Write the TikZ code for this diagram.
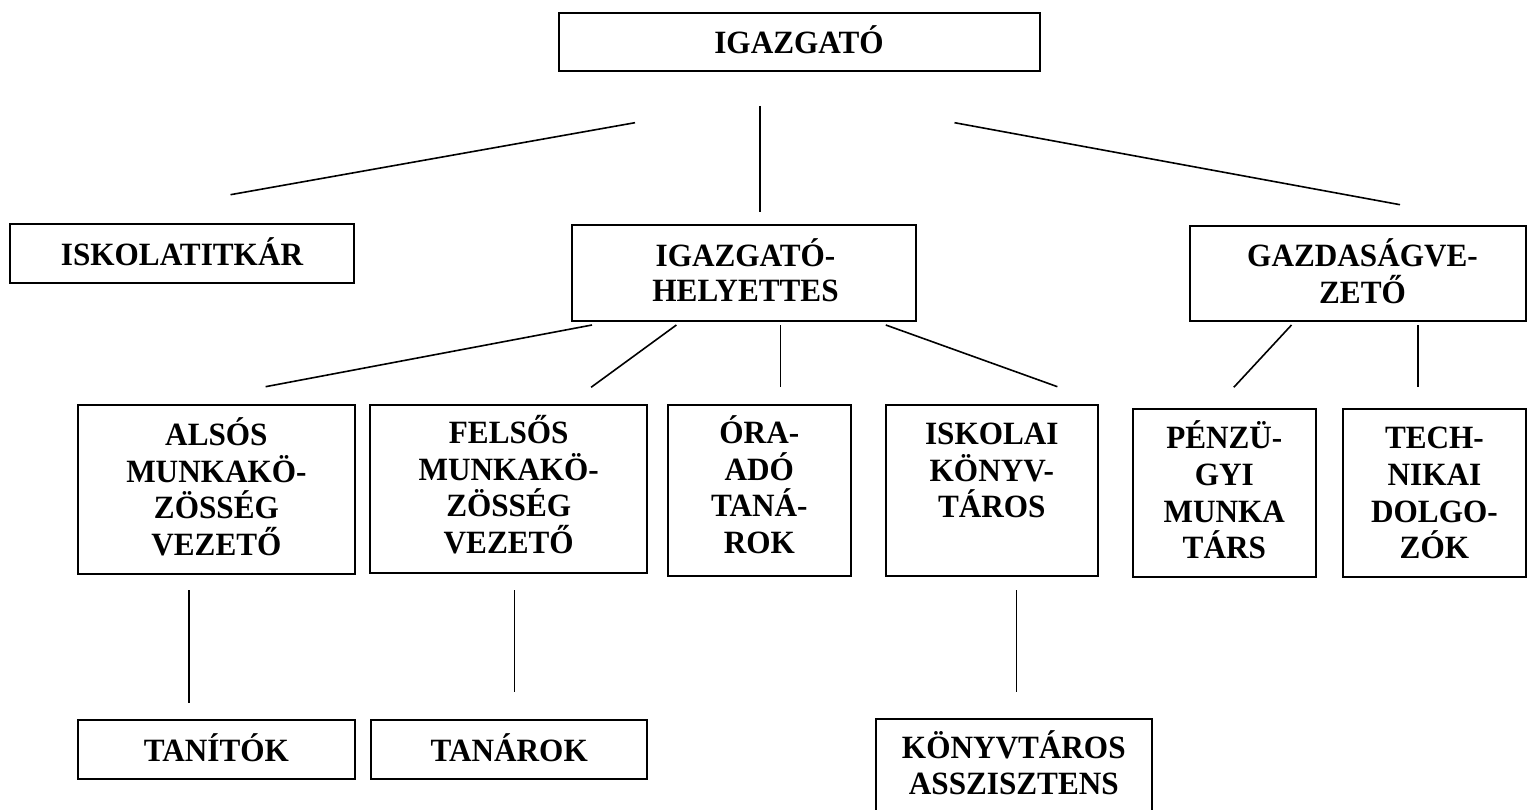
\documentclass[tikz,border=0pt]{standalone}
\usepackage{fontspec}
\setmainfont{Liberation Serif}[FakeStretch=0.96]
\usetikzlibrary{calc}
\newcommand\tstrut{\rule{0pt}{32pt}}
\begin{document}
\begin{tikzpicture}[x=1pt,y=-1pt,
  box/.style={draw, line width=2pt, inner sep=0pt, minimum width=#1},
  conn/.style={line width=1.6pt},
  lbl/.style={anchor=north, inner sep=0pt, align=center,
    font=\fontsize{32.5}{36.5}\selectfont\bfseries}
]
\useasboundingbox (0,0) rectangle (1528,810);
\fill[white] (0,0) rectangle (1528,810);

% boxes
\node[box=481pt, minimum height=58pt] (igaz) at (799,42.5) {};
\node[box=344.6pt, minimum height=59pt] (titkar) at (182,253.8) {};
\node[box=344.4pt, minimum height=95.4pt] (helyettes) at (743.8,273) {};
\node[box=335.2pt, minimum height=94.7pt] (gazd) at (1357.9,273.4) {};
\node[box=276.8pt, minimum height=169.8pt] (alsos) at (216.4,489.4) {};
\node[box=276.6pt, minimum height=168.2pt] (felsos) at (508.7,488.6) {};
\node[box=182.5pt, minimum height=171pt] (oraado) at (759.3,490) {};
\node[box=211.5pt, minimum height=171.2pt] (iskolai) at (991.8,490.1) {};
\node[box=182.5pt, minimum height=168.8pt] (penzu) at (1224.3,492.9) {};
\node[box=182.2pt, minimum height=168.8pt] (tech) at (1434.4,492.9) {};
\node[box=276.8pt, minimum height=59pt] (tanitok) at (216.4,749.5) {};
\node[box=275.9pt, minimum height=59pt] (tanarok) at (509.2,749.5) {};
\node[box=276.3pt, minimum height=121pt] (asszisztens) at (1013.8,779.5) {};

% labels (north = first baseline - 32pt)
\node[lbl] (tigaz) at (799,21.3) {\tstrut IGAZGATÓ};
\node[lbl] (ttitkar) at (182,233) {\tstrut ISKOLATITKÁR};
\node[lbl, font=\fontsize{32.5}{35}\selectfont\bfseries] (thelyettes) at (745.5,234.7) {\tstrut IGAZGATÓ-\\HELYETTES};
\node[lbl] (tgazd) at (1362.5,234.7) {\tstrut GAZDASÁGVE-\\ZETŐ};
\node[lbl] (talsos) at (216.4,413.7) {\tstrut ALSÓS\\MUNKAKÖ-\\ZÖSSÉG\\VEZETŐ};
\node[lbl] (tfelsos) at (508.7,411.3) {\tstrut FELSŐS\\MUNKAKÖ-\\ZÖSSÉG\\VEZETŐ};
\node[lbl] (toraado) at (759.3,411.3) {\tstrut ÓRA-\\ADÓ\\TANÁ-\\ROK};
\node[lbl] (tiskolai) at (991.8,412.3) {\tstrut ISKOLAI\\KÖNYV-\\TÁROS};
\node[lbl, font=\fontsize{32.5}{36.8}\selectfont\bfseries] (tpenzu) at (1224.3,416.3) {\tstrut PÉNZÜ-\\GYI\\MUNKA\\TÁRS};
\node[lbl, font=\fontsize{32.5}{36.8}\selectfont\bfseries] (ttech) at (1434.4,416.3) {\tstrut TECH-\\NIKAI\\DOLGO-\\ZÓK};
\node[lbl] (ttanitok) at (216.4,729) {\tstrut TANÍTÓK};
\node[lbl] (ttanarok) at (509.2,729) {\tstrut TANÁROK};
\node[lbl, font=\fontsize{32.5}{36}\selectfont\bfseries] (tasszisztens) at (1013.8,726.5) {\tstrut KÖNYVTÁROS\\ASSZISZTENS};

% connector end points
\coordinate (c1a) at (635,122.7);   \coordinate (c1b) at (230.5,194.7);
\coordinate (c2a) at (760.2,106);   \coordinate (c2b) at (760.2,211.7);
\coordinate (c3a) at (954.5,122.7); \coordinate (c3b) at (1400,204.7);
\coordinate (c4a) at (592,325);     \coordinate (c4b) at (265.6,386.7);
\coordinate (c5a) at (676.4,325);   \coordinate (c5b) at (591.1,387.3);
\coordinate (c6a) at (780.5,325);   \coordinate (c6b) at (780.5,387.3);
\coordinate (c7a) at (885.8,325);   \coordinate (c7b) at (1057.4,386.7);
\coordinate (c8a) at (1291.5,325);  \coordinate (c8b) at (1233.8,387.3);
\coordinate (c9a) at (1417.8,325);  \coordinate (c9b) at (1417.8,387.3);
\coordinate (c10a) at (189.1,590);  \coordinate (c10b) at (189.1,702.7);
\coordinate (c11a) at (514.6,590);  \coordinate (c11b) at (514.6,692.3);
\coordinate (c12a) at (1016.4,590); \coordinate (c12b) at (1016.4,692.3);

\foreach \i in {1,...,12} {\draw[conn] (c\i a) -- (c\i b);}
\end{tikzpicture}
\end{document}
